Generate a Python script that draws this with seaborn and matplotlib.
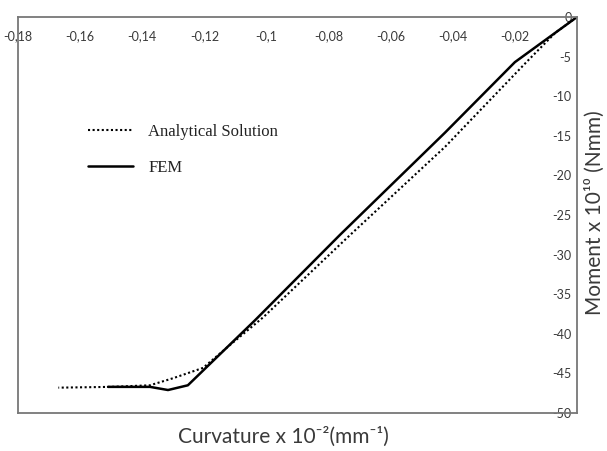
import matplotlib
matplotlib.use("Agg")
import matplotlib.pyplot as plt
import seaborn as sns
import pandas as pd
from matplotlib.ticker import FuncFormatter, FixedLocator

# Data
analytical_x = [0.0, -0.007, -0.0163, -0.0425, -0.073, -0.101, -0.1117, -0.1204, -0.130, -0.1375, -0.150, -0.167]
analytical_y = [0.0, -2.0, -5.7, -16.4, -27.5, -37.9, -41.4, -44.3, -45.6, -46.5, -46.7, -46.8]
fem_x = [0.0, -0.020, -0.0425, -0.0763, -0.1037, -0.1253, -0.1317, -0.1375, -0.151]
fem_y = [0.0, -5.7, -14.6, -27.5, -38.3, -46.5, -47.1, -46.7, -46.7]
x_ticks = [-0.18, -0.16, -0.14, -0.12, -0.10, -0.08, -0.06, -0.04, -0.02]
y_ticks = [0, -5, -10, -15, -20, -25, -30, -35, -40, -45, -50]
series_names = ["Analytical Solution", "FEM"]

sns.set_style("white")
plt.rcParams['font.family'] = ['Lato', 'DejaVu Sans']

fig = plt.figure(figsize=(6.07, 4.51), dpi=100)
ax = fig.add_axes([18/607, 1-413/451, (577-18)/607, (413-17)/451])

df_a = pd.DataFrame({"x": analytical_x, "y": analytical_y})
df_f = pd.DataFrame({"x": fem_x, "y": fem_y})
sns.lineplot(data=df_a, x="x", y="y", ax=ax, color="black", linestyle=(0, (1, 1.2)),
             linewidth=1.5, sort=False, estimator=None, label=series_names[0])
sns.lineplot(data=df_f, x="x", y="y", ax=ax, color="black", linestyle="-",
             linewidth=1.8, sort=False, estimator=None, label=series_names[1])

ax.set_xlim(-0.18, 0)
ax.set_ylim(-50, 0)

def fmt(v, pos):
    s = f"{v:g}"
    return s.replace('.', ',')

ax.xaxis.set_major_locator(FixedLocator(x_ticks))
ax.yaxis.set_major_locator(FixedLocator(y_ticks))
ax.xaxis.set_major_formatter(FuncFormatter(fmt))
ax.yaxis.set_major_formatter(FuncFormatter(fmt))

ax.xaxis.tick_top()
ax.tick_params(axis='x', top=True, bottom=False, labeltop=True, labelbottom=False,
               length=0, pad=-18, labelsize=9, labelcolor='#3a3a3a')
ax.yaxis.tick_right()
ax.tick_params(axis='y', right=True, left=False, labelright=True, labelleft=False,
               length=0, pad=-4, labelsize=9, labelcolor='#3a3a3a')
for t in ax.get_yticklabels():
    t.set_horizontalalignment('right')

for s in ax.spines.values():
    s.set_visible(True)
    s.set_color('#777777')
    s.set_linewidth(1.3)

ax.set_xlabel("")
ax.set_ylabel("")
fig.text(595/607, 1-213/451, "Moment x 10¹⁰ (Nmm)", rotation=90, ha='center', va='center',
         fontsize=15, color='#3a3a3a')
fig.text(283/607, 1-437/451, "Curvature x 10⁻²(mm⁻¹)", ha='center', va='center',
         fontsize=15, color='#3a3a3a')

leg = ax.legend(loc='upper left', bbox_to_anchor=(80/607, 1-116/451), bbox_transform=fig.transFigure,
                frameon=False, borderpad=0, handlelength=2.7, handletextpad=0.9,
                labelspacing=1.15, prop={'family': 'Liberation Serif', 'size': 12})
for t in leg.get_texts():
    t.set_color('#222222')

fig.savefig("out.png", dpi=100)
